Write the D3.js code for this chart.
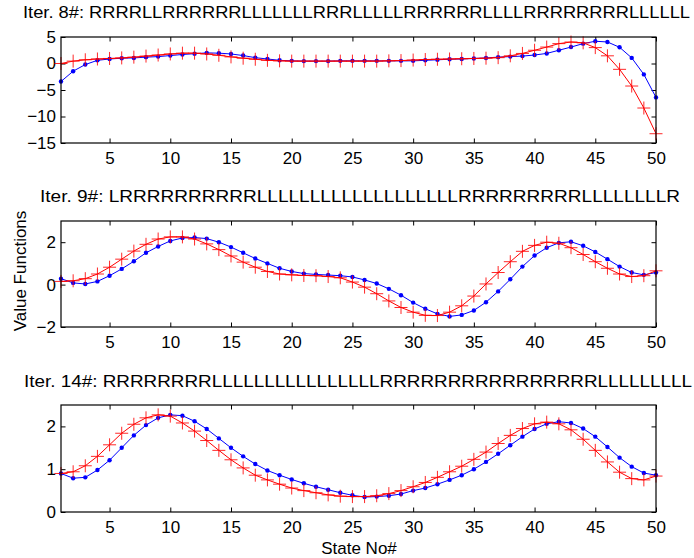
<!DOCTYPE html>
<html><head><meta charset="utf-8">
<script src="https://cdn.jsdelivr.net/npm/d3@7"></script>
<style>body{margin:0;background:#fff}svg{display:block}text{font-family:"Liberation Sans",Arial,Helvetica,sans-serif;fill:#000}</style>
</head><body><svg id="c" width="694" height="558"></svg>
<script>
const states = d3.range(1, 51);
const titles = [
  "Iter. 8#: RRRRLLRRRRRRLLLLLLLRRRLLLLLRRRRRRLLLLRRRRRRRRLLLLLL",
  "Iter. 9#: LRRRRRRRRRRLLLLLLLLLLLLLLLLLLLRRRRRRRRRLLLLLLLLR",
  "Iter. 14#: RRRRRRRRLLLLLLLLLLLLLLLLRRRRRRRRRRRRRRRRLLLLLLLLL"
];
const yTicks1 = [5, 0, -5, -10, -15];
const yTicks2 = [2, 0, -2];
const yTicks3 = [2, 1, 0];
const xTicks = [5, 10, 15, 20, 25, 30, 35, 40, 45, 50];

const blue1 = [-3.4,-1.45,-0.2,0.6,0.85,1.0,1.05,1.2,1.3,1.5,1.7,1.85,2.0,1.95,1.8,1.5,1.1,0.85,0.6,0.5,0.45,0.45,0.45,0.5,0.5,0.5,0.5,0.5,0.5,0.5,0.6,0.7,0.8,0.85,0.95,1.05,1.2,1.3,1.4,1.6,1.9,2.5,3.1,3.75,4.2,4.06,3.06,1.06,-2.06,-6.4];
const red1 = [0,0.45,0.7,0.85,0.95,1.05,1.2,1.4,1.6,1.8,1.95,1.95,1.8,1.55,1.25,1.0,0.8,0.6,0.5,0.45,0.45,0.45,0.45,0.45,0.45,0.45,0.45,0.5,0.55,0.65,0.75,0.8,0.85,0.9,0.95,1.0,1.1,1.45,1.9,2.5,3.1,3.75,4.05,3.9,3.0,1.45,-1.1,-4.25,-8.4,-13.25];
const blue2 = [0.28,0.08,0.03,0.15,0.42,0.74,1.1,1.5,1.8,2.06,2.2,2.22,2.17,2.0,1.77,1.5,1.23,1.0,0.77,0.62,0.52,0.48,0.45,0.42,0.36,0.22,0.05,-0.2,-0.5,-0.85,-1.14,-1.38,-1.5,-1.43,-1.22,-0.83,-0.32,0.25,0.85,1.37,1.74,1.97,2.02,1.83,1.54,1.2,0.85,0.57,0.46,0.57];
const red2 = [0.15,0.18,0.28,0.5,0.82,1.2,1.58,1.9,2.15,2.25,2.25,2.15,1.92,1.65,1.35,1.06,0.82,0.62,0.5,0.46,0.43,0.42,0.38,0.32,0.12,-0.12,-0.43,-0.77,-1.08,-1.3,-1.45,-1.46,-1.3,-1.0,-0.54,0.03,0.57,1.08,1.57,1.85,2.0,1.95,1.74,1.42,1.08,0.77,0.5,0.38,0.42,0.65];
const blue3 = [0.9,0.79,0.81,0.98,1.21,1.5,1.79,2.03,2.2,2.27,2.25,2.12,1.94,1.72,1.5,1.3,1.12,0.97,0.86,0.76,0.67,0.59,0.52,0.45,0.39,0.35,0.36,0.38,0.42,0.5,0.56,0.65,0.75,0.86,1.0,1.17,1.36,1.56,1.76,1.94,2.06,2.11,2.08,1.95,1.76,1.52,1.27,1.06,0.91,0.86];
const red3 = [0.9,0.94,1.08,1.3,1.57,1.84,2.05,2.2,2.27,2.24,2.08,1.89,1.67,1.44,1.22,1.03,0.86,0.75,0.65,0.56,0.5,0.45,0.4,0.37,0.36,0.36,0.38,0.43,0.5,0.59,0.69,0.81,0.94,1.07,1.23,1.4,1.6,1.79,1.95,2.06,2.1,2.06,1.92,1.7,1.44,1.17,0.93,0.78,0.75,0.84];

const panels = [
  {title: titles[0], top: 37, bottom: 143, ydom: [-15, 5], yt: yTicks1, blue: blue1, red: red1, ty: 18},
  {title: titles[1], top: 221, bottom: 327, ydom: [-2, 3], yt: yTicks2, blue: blue2, red: red2, ty: 202},
  {title: titles[2], top: 405, bottom: 512, ydom: [0, 2.5], yt: yTicks3, blue: blue3, red: red3, ty: 387}
];
const titleSpan = [[23, 690], [40, 680], [24, 692]];
const L = 61, R = 656;
const svg = d3.select("#c");
const x = d3.scaleLinear().domain([1, 50]).range([L, R]);
const fmt = d3.format("d");

panels.forEach((p, i) => {
  const y = d3.scaleLinear().domain(p.ydom).range([p.bottom, p.top]);
  const g = svg.append("g");
  const tl = 4.5;
  const bx = d3.axisBottom(x).tickValues(xTicks).tickSizeInner(-tl).tickSizeOuter(0).tickPadding(9).tickFormat(fmt);
  const ga = g.append("g").attr("transform", `translate(0,${p.bottom})`).call(bx);
  ga.select(".domain").remove();
  ga.selectAll("text").style("font-size", "17px").style("font-family", "'Liberation Sans',Arial,sans-serif");
  const tx = d3.axisTop(x).tickValues(xTicks).tickSizeInner(-tl).tickSizeOuter(0).tickFormat("");
  const gt = g.append("g").attr("transform", `translate(0,${p.top})`).call(tx);
  gt.select(".domain").remove();
  const ly = d3.axisLeft(y).tickValues(p.yt).tickSizeInner(-tl).tickSizeOuter(0).tickPadding(5).tickFormat(fmt);
  const gl = g.append("g").attr("transform", `translate(${L},0)`).call(ly);
  gl.select(".domain").remove();
  gl.selectAll("text").style("font-size", "17px").style("font-family", "'Liberation Sans',Arial,sans-serif");
  const ry = d3.axisRight(y).tickValues(p.yt).tickSizeInner(-tl).tickSizeOuter(0).tickFormat("");
  const gr = g.append("g").attr("transform", `translate(${R},0)`).call(ry);
  gr.select(".domain").remove();
  g.selectAll(".tick line").attr("stroke", "#000");

  const line = d3.line().x((d, j) => x(states[j])).y(d => y(d));
  g.append("path").datum(p.blue).attr("d", line).attr("fill", "none").attr("stroke", "#0000ff").attr("stroke-width", 1);
  g.selectAll(".dot").data(p.blue).enter().append("circle")
    .attr("cx", (d, j) => x(states[j])).attr("cy", d => y(d)).attr("r", 2.2).attr("fill", "#0000ff");
  g.append("path").datum(p.red).attr("d", line).attr("fill", "none").attr("stroke", "#ff0000").attr("stroke-width", 1);
  const s = 6.5;
  g.selectAll(".plus").data(p.red).enter().append("path")
    .attr("d", (d, j) => {
      const cx = x(states[j]), cy = y(d);
      return `M${cx - s},${cy}H${cx + s}M${cx},${cy - s}V${cy + s}`;
    }).attr("stroke", "#ff0000").attr("stroke-width", 1).attr("stroke-opacity", 0.85).attr("fill", "none");

  g.append("rect").attr("x", L).attr("y", p.top).attr("width", R - L).attr("height", p.bottom - p.top)
    .attr("fill", "none").attr("stroke", "#000").attr("stroke-width", 1.2);

  const sp = titleSpan[i];
  svg.append("text").attr("x", sp[0]).attr("y", p.ty).text(p.title)
    .style("font-size", "16px").attr("textLength", sp[1] - sp[0]).attr("lengthAdjust", "spacingAndGlyphs");
});

svg.append("text").attr("x", 359).attr("y", 554).attr("text-anchor", "middle").style("font-size", "17px").text("State No#");
svg.append("text").attr("transform", "translate(26,271) rotate(-90)").attr("text-anchor", "middle").style("font-size", "17px").text("Value Functions");
</script></body></html>
